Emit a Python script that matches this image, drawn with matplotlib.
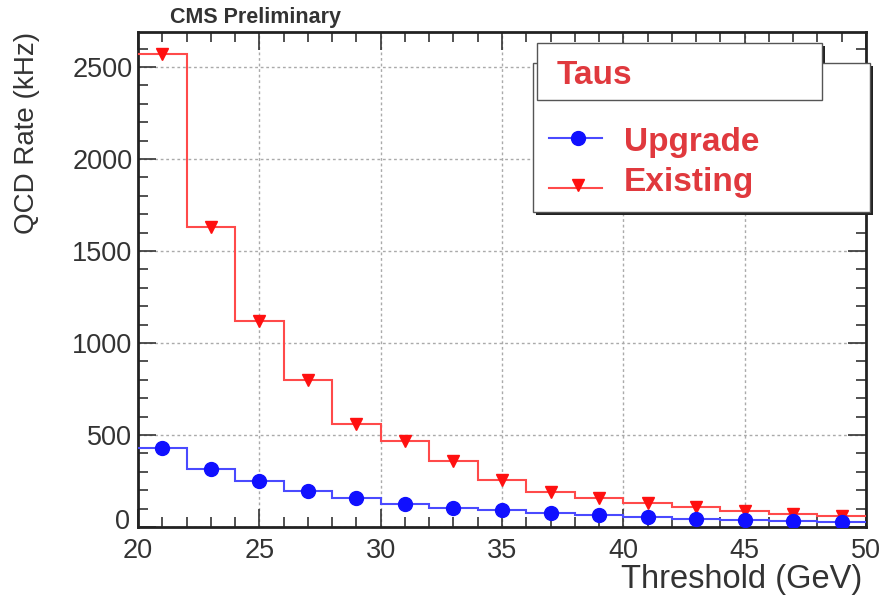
import matplotlib
matplotlib.use("Agg")
import matplotlib.pyplot as plt
from matplotlib.patches import Rectangle
from matplotlib.lines import Line2D
from matplotlib.ticker import MultipleLocator
from matplotlib.transforms import ScaledTranslation

plt.rcParams['font.family'] = ['Liberation Sans', 'DejaVu Sans']

# threshold bins (GeV) and QCD rates (kHz)
bin_edges = [20, 22, 24, 26, 28, 30, 32, 34, 36, 38, 40, 42, 44, 46, 48, 50]
existing_rate = [2570, 1630, 1120, 797, 560, 469, 359, 254, 190, 159, 131, 108, 86, 73, 58]
upgrade_rate = [432, 314, 250, 195, 159, 126, 104, 90, 77, 64, 55, 46, 40, 35, 27]
y_ticks = [0, 500, 1000, 1500, 2000, 2500]
series_names = ["Upgrade", "Existing"]
legend_title = "Taus"

W, H = 882, 595


def fx(px):
    return px / W


def fy(py):
    return 1 - py / H


centers = [(a + b) / 2 for a, b in zip(bin_edges[:-1], bin_edges[1:])]

fig = plt.figure(figsize=(W / 100, H / 100), dpi=100)
ax = fig.add_axes([fx(138), fy(527), fx(866) - fx(138), fy(32) - fy(527)])

red_line, red_mark = '#ff4a4a', '#ff1010'
blue_line, blue_mark = '#4a4aff', '#1010ff'

ax.stairs(existing_rate, bin_edges, baseline=None, color=red_line, lw=1.5, zorder=3)
ax.plot(centers, existing_rate, 'v', color=red_mark, ms=9, ls='none', zorder=4)
ax.stairs(upgrade_rate, bin_edges, baseline=None, color=blue_line, lw=1.5, zorder=5)
ax.plot(centers, upgrade_rate, 'o', color=blue_mark, ms=10, ls='none', zorder=6)

ax.set_xlim(20, 50)
ax.set_ylim(0, 2690)
ax.xaxis.set_major_locator(MultipleLocator(5))
ax.xaxis.set_minor_locator(MultipleLocator(1))
ax.set_yticks(y_ticks)
ax.yaxis.set_minor_locator(MultipleLocator(100))
ax.tick_params(which='both', direction='in', top=True, right=True,
               colors='#333333', labelsize=19.5, width=1.2)
ax.tick_params(which='major', length=13)
ax.tick_params(which='minor', length=7)
ax.tick_params(axis='x', pad=8)
ax.tick_params(axis='y', pad=4)
ax.grid(True, which='major', color='#aaaaaa', lw=1, ls=(0, (2, 2)))
for s in ax.spines.values():
    s.set_linewidth(2)
    s.set_color('#222222')

# lift the "0" label a bit so it clears the "20" below it
zero_lbl = ax.yaxis.get_major_ticks()[0].label1
zero_lbl.set_transform(zero_lbl.get_transform()
                       + ScaledTranslation(-2 / 72, 6 / 72, fig.dpi_scale_trans))

ax.text(-0.153, 1.0, "QCD Rate (kHz)", rotation=90, ha='center', va='top',
        transform=ax.transAxes, fontsize=20, color='#333333')
ax.text(0.9945, -0.107, "Threshold (GeV)", ha='right', va='center',
        transform=ax.transAxes, fontsize=23.5, color='#333333')
fig.text(fx(170), fy(18), "CMS Preliminary", ha='left', va='center',
         fontsize=15.5, fontweight='bold', color='#333333')


def shadow_box(x0, y0, x1, y1, off=3):
    sh = Rectangle((fx(x0 + off), fy(y1 + off)), fx(x1) - fx(x0), fy(y0) - fy(y1),
                   transform=fig.transFigure, facecolor='#222222', edgecolor='none',
                   zorder=10)
    bx = Rectangle((fx(x0), fy(y1)), fx(x1) - fx(x0), fy(y0) - fy(y1),
                   transform=fig.transFigure, facecolor='white', edgecolor='#555555',
                   lw=1, zorder=11)
    fig.add_artist(sh)
    fig.add_artist(bx)


# legend panel with header box
shadow_box(533, 63, 870, 212)
shadow_box(537, 43, 822, 100)
text_red = '#e0393e'
fig.text(fx(557), fy(76), legend_title, ha='left', va='center', fontsize=24,
         fontweight='bold', color=text_red, zorder=12)

entries = [(138, 143, blue_line, blue_mark, 'o', 10),
           (188, 182, red_line, red_mark, 'v', 9)]
for name, (ly, ty, lc, mc, mk, ms) in zip(series_names, entries):
    fig.add_artist(Line2D([fx(549), fx(602)], [fy(ly), fy(ly)], color=lc, lw=1.5,
                          transform=fig.transFigure, zorder=12))
    fig.add_artist(Line2D([fx(578)], [fy(ly - (3 if mk == 'v' else 0))], marker=mk,
                          color=mc, ms=ms, ls='none', transform=fig.transFigure,
                          zorder=13))
    fig.text(fx(624), fy(ty), name, ha='left', va='center', fontsize=24,
             fontweight='bold', color=text_red, zorder=12)

fig.savefig("out.png", dpi=100)
